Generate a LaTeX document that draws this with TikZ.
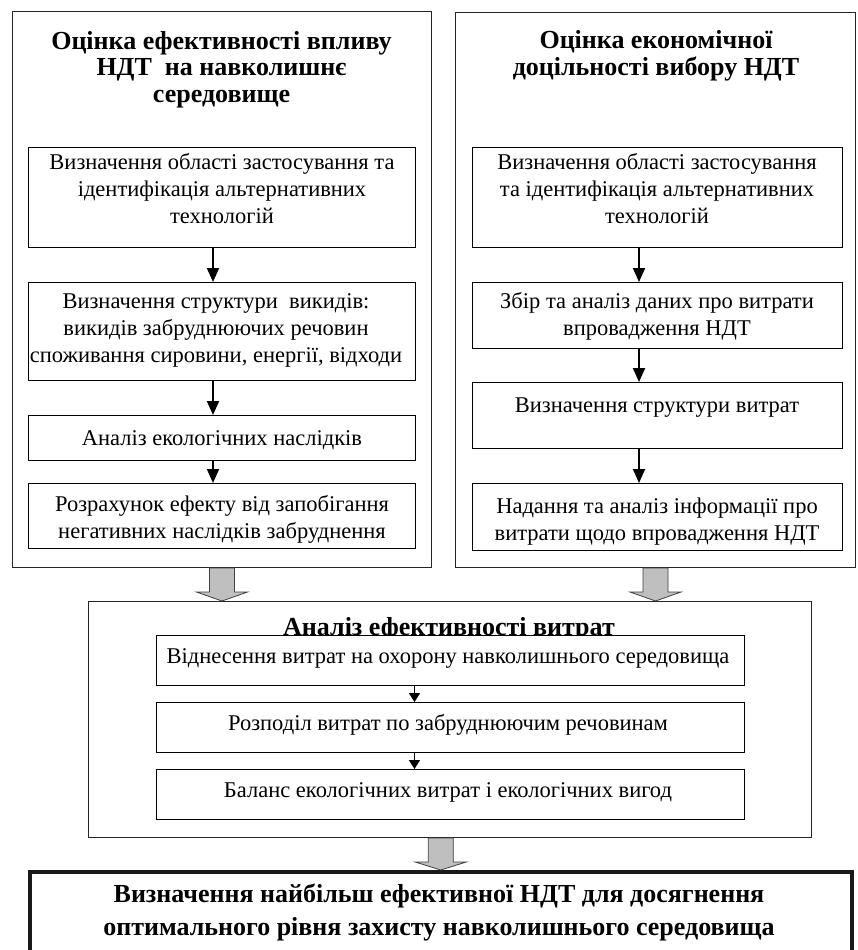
\documentclass[tikz,border=0pt]{standalone}
\usepackage{fontspec}
\setmainfont{Liberation Serif}
\usetikzlibrary{arrows.meta,calc}
\newcommand{\fatarr}[3]{%
  \draw[fat] let \p1=(#1), \p2=(#2) in
    (\x2-12.5pt,\y1) -- (\x2+12.5pt,\y1) -- (\x2+12.5pt,\y2+#3) -- (\x2+25.5pt,\y2+#3)
    -- (\x2,\y2) -- (\x2-25.5pt,\y2+#3) -- (\x2-12.5pt,\y2+#3) -- cycle;}
\tikzset{
  rbox/.style={draw=black, line width=1.2pt, fill=white, inner sep=0pt, anchor=north west},
  obox/.style={draw=black!85, line width=1pt, fill=white, inner sep=0pt, anchor=north west},
  fbox/.style={draw=black!90, line width=3.5pt, fill=white, inner sep=0pt, anchor=north west},
  body/.style={font=\fontsize{22.5}{27}\selectfont, align=center, inner sep=0pt, anchor=base},
  ttl/.style={font=\bfseries\fontsize{26}{26.5}\selectfont, align=center, inner sep=0pt, anchor=base},
  mttl/.style={font=\bfseries\fontsize{26}{30}\selectfont, align=center, inner sep=0pt, anchor=base},
  fttl/.style={font=\bfseries\fontsize{26}{33}\selectfont, align=center, inner sep=0pt, anchor=base},
  arr/.style={line width=2pt, -{Triangle[width=12pt,length=14pt]}},
  sarr/.style={line width=1.6pt, -{Triangle[width=11pt,length=9pt]}},
  fat/.style={draw=black!75, line width=0.8pt, fill=black!25},
}
\begin{document}
\begin{tikzpicture}[x=1pt,y=-1pt]
\path[use as bounding box] (0,0) rectangle (857,950);
\clip (0,0) rectangle (857,950);
\fill[white] (0,0) rectangle (857,950);

% outer boxes
\node[obox, minimum width=419pt, minimum height=556pt] (Lout) at (12,11) {};
\node[obox, minimum width=400pt, minimum height=555pt] (Rout) at (455,12) {};

% titles (anchor base = baseline of last line)
\node[ttl] (Lt) at (221.5,102) {Оцінка ефективності впливу\\НДТ~ на навколишнє\\середовище};
\node[ttl] (Rt) at (656,75) {Оцінка економічної\\доцільності вибору НДТ};

% left column boxes
\node[rbox, minimum width=387pt, minimum height=100pt] (L1) at (28,147) {};
\node[rbox, minimum width=387pt, minimum height=98pt] (L2) at (28,282) {};
\node[rbox, minimum width=387pt, minimum height=45pt] (L3) at (28,415) {};
\node[rbox, minimum width=387pt, minimum height=65pt] (L4) at (28,483) {};

% right column boxes
\node[rbox, minimum width=370pt, minimum height=100pt] (R1) at (472,147) {};
\node[rbox, minimum width=370pt, minimum height=66pt] (R2) at (472,282) {};
\node[rbox, minimum width=370pt, minimum height=66pt] (R3) at (472,382) {};
\node[rbox, minimum width=370pt, minimum height=67pt] (R4) at (472,483) {};

% left texts
\node[body] (tL1) at (222,223) {Визначення області застосування та\\ідентифікація альтернативних\\технологій};
\node[body] (tL2) at (216,362) {Визначення структури~ викидів:\\викидів забруднюючих речовин\\споживання сировини, енергії, відходи};
\node[body] (tL3) at (222,445) {Аналіз екологічних наслідків};
\node[body] (tL4) at (222,538) {Розрахунок ефекту від запобігання\\негативних наслідків забруднення};

% right texts
\node[body] (tR1) at (657,223) {Визначення області застосування\\та ідентифікація альтернативних\\технологій};
\node[body] (tR2) at (657,335) {Збір та аналіз даних про витрати\\впровадження НДТ};
\node[body] (tR3) at (657,412) {Визначення структури витрат};
\node[body] (tR4) at (657,540) {Надання та аналіз інформації про\\витрати щодо впровадження НДТ};

% column arrows
\coordinate (axL) at (213,0);
\coordinate (axR) at (639,0);
\draw[arr] (L1.south -| axL) -- (L2.north -| axL);
\draw[arr] (L2.south -| axL) -- (L3.north -| axL);
\draw[arr] (L3.south -| axL) -- (L4.north -| axL);
\draw[arr] (R1.south -| axR) -- (R2.north -| axR);
\draw[arr] (R2.south -| axR) -- (R3.north -| axR);
\draw[arr] (R3.south -| axR) -- (R4.north -| axR);

% middle block
\node[obox, minimum width=723pt, minimum height=236pt] (M) at (88,601) {};
\node[mttl] (Mt) at (449,635) {Аналіз ефективності витрат};
\node[rbox, minimum width=588pt, minimum height=50pt] (M1) at (156,635) {};
\node[rbox, minimum width=588pt, minimum height=50pt] (M2) at (156,702) {};
\node[rbox, minimum width=588pt, minimum height=50pt] (M3) at (156,769) {};
\node[body] (tM1) at (448,663) {Віднесення витрат на охорону навколишнього середовища};
\node[body] (tM2) at (448,730) {Розподіл витрат по забруднюючим речовинам};
\node[body] (tM3) at (448,797) {Баланс екологічних витрат і екологічних вигод};
\coordinate (axM) at (414.5,0);
\draw[sarr] (M1.south -| axM) -- (M2.north -| axM);
\draw[sarr] (M2.south -| axM) -- (M3.north -| axM);

% final box
\node[fbox, minimum width=822pt, minimum height=110pt] (F) at (28,870) {};
\node[fttl] (tF) at (439,935) {Визначення найбільш ефективної НДТ для досягнення\\оптимального рівня захисту навколишнього середовища};

% fat arrows
\fatarr{Lout.south}{Lout.south |- M.north}{9pt}
\fatarr{Rout.south}{Rout.south |- M.north}{9pt}
\fatarr{M.south -| F.north}{F.north}{8pt}
\end{tikzpicture}
\end{document}
